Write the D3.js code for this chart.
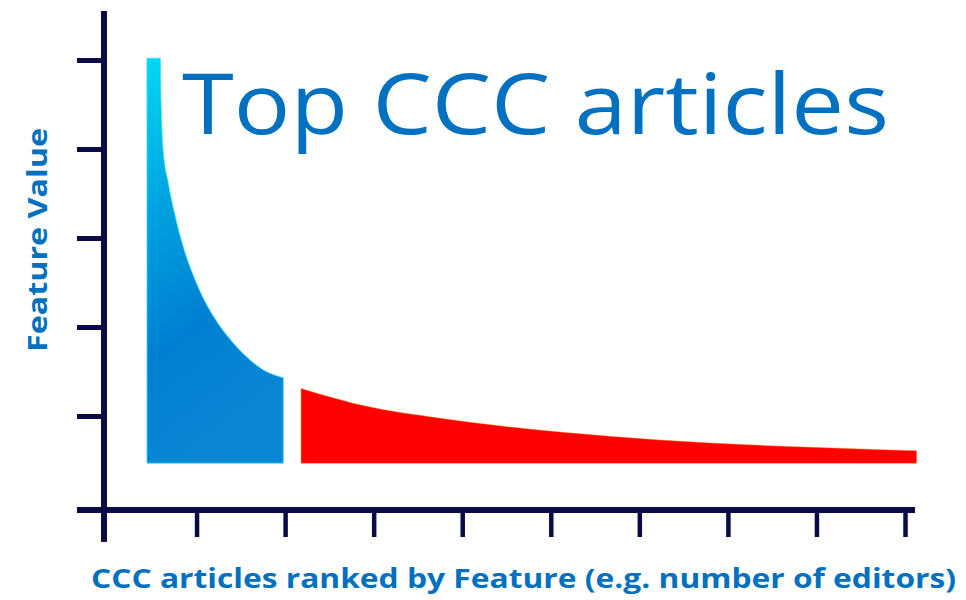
<!DOCTYPE html>
<html>
<head>
<meta charset="utf-8">
<script src="https://cdn.jsdelivr.net/npm/d3@7"></script>
<style>
  html, body { margin: 0; padding: 0; background: #ffffff; }
  svg { display: block; }
</style>
</head>
<body>
<svg id="chart" width="966" height="600"></svg>
<script>
// ---- data (rank position in tick units, feature value) ----
const title = "Top CCC articles";
const yLabel = "Feature Value";
const xLabel = "CCC articles ranked by Feature (e.g. number of editors)";

const xTicks = [1, 2, 3, 4, 5, 6, 7, 8, 9];
const yTicks = [1, 2, 3, 4, 5];
const baseValue = 0.47;

const topRanks  = [0.44, 0.59, 0.60, 0.62, 0.68, 0.76, 0.85, 1.00, 1.19, 1.38, 1.57, 1.75, 1.98];
const topValues = [5.02, 5.02, 4.50, 4.02, 3.62, 3.24, 2.90, 2.49, 2.12, 1.86, 1.66, 1.52, 1.43];

const tailRanks  = [2.18, 2.96, 3.71, 4.46, 5.10, 6.23, 7.36, 8.49, 9.13];
const tailValues = [1.31, 1.10, 0.98, 0.885, 0.82, 0.73, 0.67, 0.63, 0.61];

// ---- layout ----
const svg = d3.select("#chart");
const navy = "#0a0a46";
const textBlue = "#0070c0";

const x = d3.scaleLinear().domain([0, 9]).range([108, 905]);
const y = d3.scaleLinear().domain([0, 5]).range([505, 60]);
const axisY = 510;   // x-axis line position
const axisX = 104;   // y-axis line position

// gradient for blue area
const defs = svg.append("defs");
const grad = defs.append("linearGradient")
  .attr("id", "blueGrad")
  .attr("x1", "0").attr("y1", "0").attr("x2", "0.25").attr("y2", "1");
grad.append("stop").attr("offset", "0%").attr("stop-color", "#00d8f6");
grad.append("stop").attr("offset", "35%").attr("stop-color", "#00a4e0");
grad.append("stop").attr("offset", "70%").attr("stop-color", "#0080d2");
grad.append("stop").attr("offset", "100%").attr("stop-color", "#0a86d4");

const area = d3.area()
  .x(d => x(d[0]))
  .y0(y(baseValue))
  .y1(d => y(d[1]))
  .curve(d3.curveMonotoneX);

const topData = topRanks.map((r, i) => [r, topValues[i]]);
const tailData = tailRanks.map((r, i) => [r, tailValues[i]]);

svg.append("path")
  .datum(topData)
  .attr("d", area)
  .attr("fill", "url(#blueGrad)")
  .attr("stroke", "#3fe0ff")
  .attr("stroke-width", 1)
  .attr("stroke-opacity", 0.8);

svg.append("path")
  .datum(tailData)
  .attr("d", area)
  .attr("fill", "#ff0000")
  .attr("stroke", "#ff7a00")
  .attr("stroke-width", 0.8)
  .attr("stroke-opacity", 0.5);

// ---- axes ----
const xAxis = d3.axisBottom(x).tickValues(xTicks).tickSize(27).tickFormat("");
const gx = svg.append("g").attr("transform", `translate(0,${axisY})`).call(xAxis);
gx.select(".domain").remove();
gx.selectAll(".tick line").attr("stroke", navy).attr("stroke-width", 4.5);

const yAxis = d3.axisLeft(y).tickValues(yTicks).tickSize(27).tickFormat("");
const gy = svg.append("g").attr("transform", `translate(${axisX},0)`).call(yAxis);
gy.select(".domain").remove();
gy.selectAll(".tick line").attr("stroke", navy).attr("stroke-width", 5);

// axis lines
svg.append("line")
  .attr("x1", 77).attr("x2", 915)
  .attr("y1", axisY).attr("y2", axisY)
  .attr("stroke", navy).attr("stroke-width", 6);
svg.append("line")
  .attr("x1", axisX).attr("x2", axisX)
  .attr("y1", 11).attr("y2", 542)
  .attr("stroke", navy).attr("stroke-width", 6);

// ---- texts ----
svg.append("text")
  .attr("x", 182).attr("y", 134)
  .attr("font-family", "'Open Sans', sans-serif")
  .attr("font-size", 84)
  .attr("fill", textBlue)
  .attr("textLength", 707)
  .attr("lengthAdjust", "spacingAndGlyphs")
  .text(title);

svg.append("text")
  .attr("transform", "translate(47,240) rotate(-90)")
  .attr("text-anchor", "middle")
  .attr("font-family", "'Open Sans', sans-serif")
  .attr("font-weight", "bold")
  .attr("font-size", 26)
  .attr("fill", textBlue)
  .attr("textLength", 224)
  .attr("lengthAdjust", "spacingAndGlyphs")
  .text(yLabel);

svg.append("text")
  .attr("x", 91).attr("y", 588)
  .attr("font-family", "'Open Sans', sans-serif")
  .attr("font-weight", "bold")
  .attr("font-size", 26)
  .attr("fill", textBlue)
  .attr("textLength", 865)
  .attr("lengthAdjust", "spacingAndGlyphs")
  .text(xLabel);
</script>
</body>
</html>
